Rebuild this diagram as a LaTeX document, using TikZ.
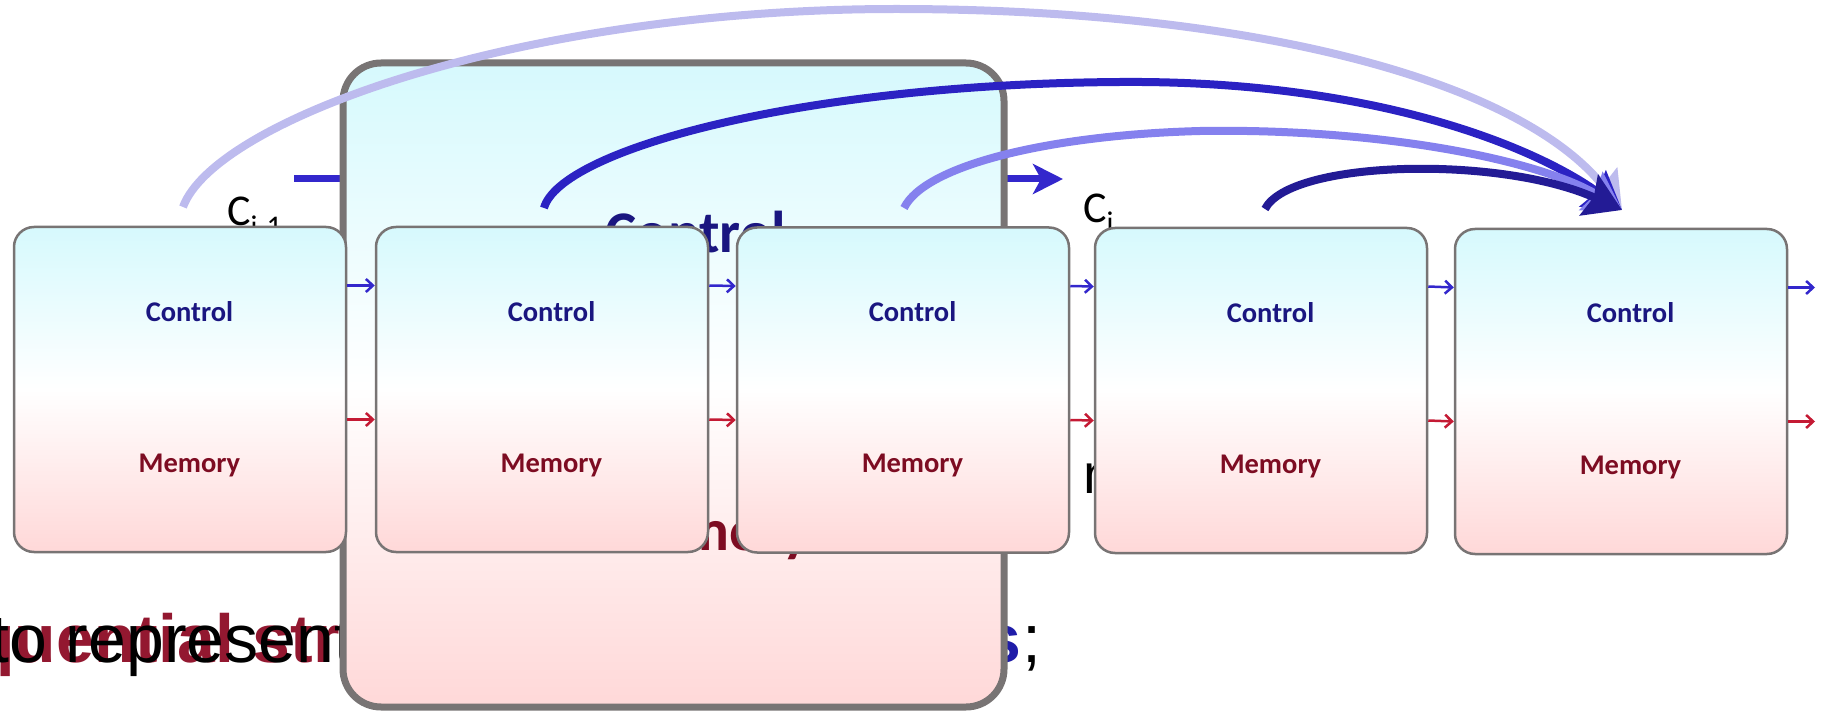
\documentclass[tikz,border=0pt]{standalone}
\usepackage{fontspec}
\setmainfont{Liberation Sans}
\newfontfamily\calfont{Carlito}
\usetikzlibrary{arrows.meta,calc}

\definecolor{boxline}{HTML}{787474}
\definecolor{cyanT}{HTML}{D6F9FD}
\definecolor{pinkB}{HTML}{FFD8D8}
\definecolor{ctrlTxt}{HTML}{1A1680}
\definecolor{memTxt}{HTML}{7D0C22}
\definecolor{flowBlue}{HTML}{3327CC}
\definecolor{flowRed}{HTML}{C41A34}
\definecolor{seqRed}{HTML}{931830}
\definecolor{wordBlue}{HTML}{1F1CA8}
\definecolor{arcLav}{HTML}{BDBBEE}
\definecolor{arcBlue}{HTML}{2B22C3}
\definecolor{arcPurple}{HTML}{8581EE}
\definecolor{arcNavy}{HTML}{231B95}

\tikzset{
  cell/.style={draw=boxline, line width=2.5pt, rounded corners=20pt,
    minimum width=332pt, minimum height=325pt, inner sep=0pt,
    top color=cyanT, bottom color=pinkB, middle color=white},
  bigcell/.style={draw=boxline, line width=7pt, rounded corners=38pt,
    minimum width=661pt, minimum height=644pt, inner sep=0pt,
    top color=cyanT, bottom color=pinkB, middle color=white},
  celltxt/.style={anchor=base, inner sep=0pt, font=\calfont\bfseries\fontsize{28.5}{30}\selectfont},
  bigtxt/.style={anchor=base west, inner sep=0pt, font=\calfont\bfseries\fontsize{59}{60}\selectfont},
  linetxt/.style={inner sep=0pt, font=\fontsize{68}{70}\selectfont},
  lbl/.style={anchor=base west, inner sep=0pt, font=\calfont\fontsize{44}{44}\selectfont},
  cflow/.style={line width=2.5pt, -{Straight Barb[length=7pt,width=13pt]}},
  arc/.style={line width=8pt, -{Stealth[length=36pt,width=44pt,inset=5pt]}},
}

\begin{document}
\begin{tikzpicture}[x=1pt,y=-1pt]
\useasboundingbox (0,0) rectangle (1824,714);

% text line running under the large cell
\node[linetxt, anchor=base east, text=seqRed, font=\bfseries\fontsize{68}{70}\selectfont] (lineB) at (340,662) {sequential str};
\node[linetxt, anchor=base west] (lineA) at (-10,662) {to represent};
\node[linetxt, anchor=base east, text=wordBlue, font=\bfseries\fontsize{68}{70}\selectfont] (lineC) at (1022,662) {s};
\node[linetxt, anchor=base west] (lineD) at (1022,662) {;};
\node[linetxt, anchor=base west, font=\fontsize{56}{58}\selectfont] (frag) at (1083,493) {n};

% C_{i-1} -> C_i flow
\coordinate (hs) at (294,179);
\coordinate (he) at (1063,179);
\draw[line width=7pt, flowBlue, -{Stealth[length=30pt,width=30pt,inset=8pt]}] (hs) -- (he);

% large cell
\node[bigcell] (big) at (673.5,385) {};
\node[bigtxt, text=ctrlTxt] (bigC) at (605,253) {Control};
\node[bigtxt, text=memTxt] (bigM) at (600,550) {Memory};

% state labels
\node[lbl] (cprev) at (227,226) {C\raisebox{-10pt}{\fontsize{30}{30}\selectfont i-1}};
\node[lbl] (ccur) at (1083,223) {C\raisebox{-10pt}{\fontsize{30}{30}\selectfont i}};

% chain of cells
\foreach \n/\x/\y in {1/180/389.5, 2/542/389.5, 3/903/390, 4/1261/390.5, 5/1621/391.5}{
  \node[cell] (b\n) at (\x,\y) {};
  \node[celltxt, text=ctrlTxt] (c\n) at ($(b\n)+(9.5,-68.5)$) {Control};
  \node[celltxt, text=memTxt] (m\n) at ($(b\n)+(9.5,82.5)$) {Memory};
}
\foreach \a/\b in {1/2, 2/3, 3/4, 4/5}{
  \draw[cflow, flowBlue] ($(b\a.east)+(0,-104)$) -- ($(b\b.west)+(0,-104)$);
  \draw[cflow, flowRed] ($(b\a.east)+(0,30)$) -- ($(b\b.west)+(0,30)$);
}
\coordinate (outC) at (1815,287.5);
\coordinate (outM) at (1815,421.5);
\draw[cflow, flowBlue] ($(b5.east)+(0,-104)$) -- (outC);
\draw[cflow, flowRed] ($(b5.east)+(0,30)$) -- (outM);

% skip connections into the last cell
\coordinate (tip) at (1622,210);
\coordinate (s1) at (183,207);
\coordinate (s2) at (544,208);
\coordinate (s3) at (904,208);
\coordinate (s4) at (1265,209);
\draw[arc, arcLav] (s1) .. controls (215,120) and (520,9) .. (896,9)
  .. controls (1250,9) and (1520,80) .. (tip);
\draw[arc, arcBlue] (s2) .. controls (560,150) and (800,84) .. (1120,82)
  .. controls (1380,80) and (1540,150) .. (tip);
\draw[arc, arcPurple] (s3) .. controls (925,165) and (1050,135) .. (1200,131)
  .. controls (1380,128) and (1540,160) .. (tip);
\draw[arc, arcNavy] (s4) .. controls (1290,160) and (1500,155) .. (tip);
\end{tikzpicture}
\end{document}
